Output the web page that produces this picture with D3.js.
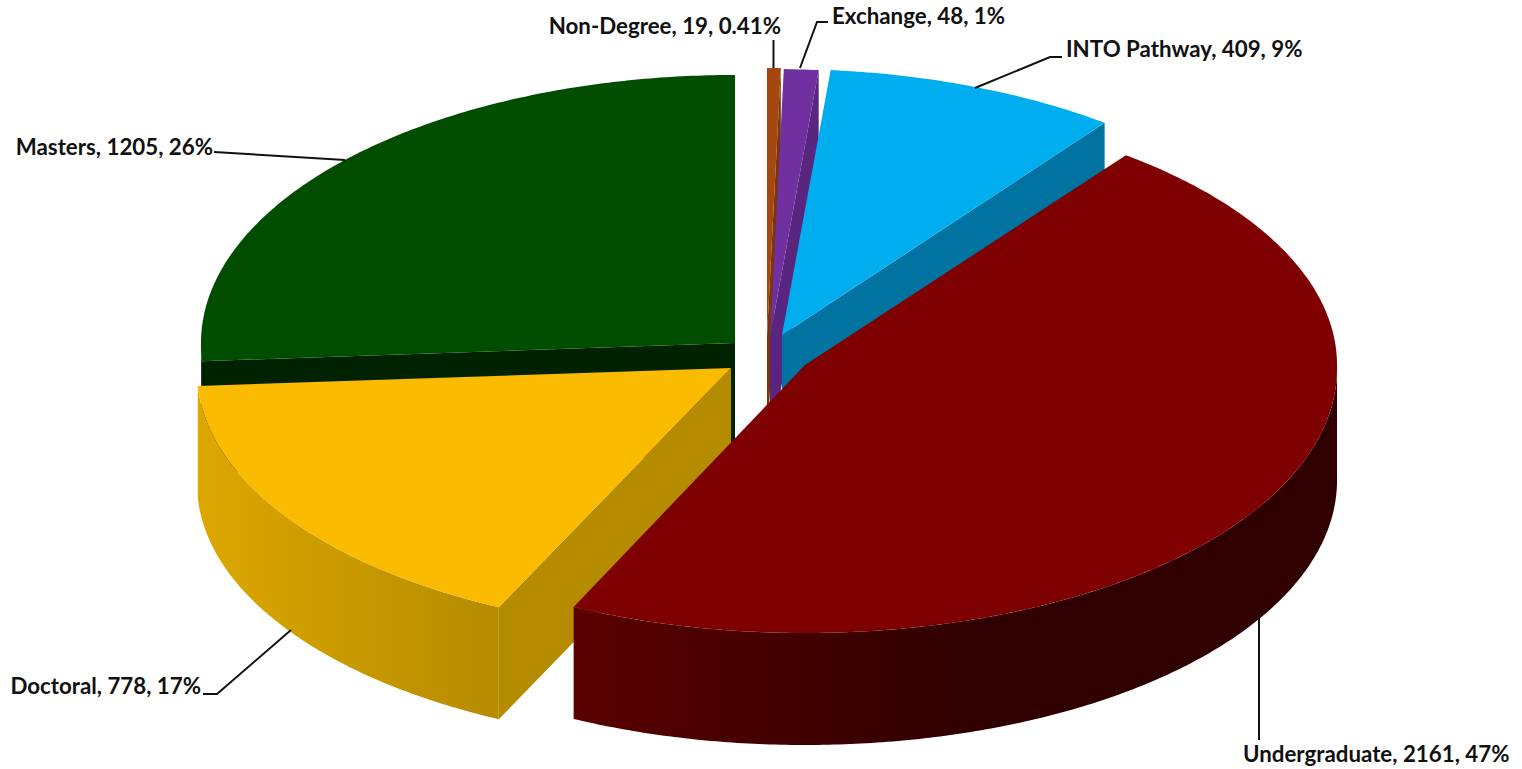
<!DOCTYPE html>
<html><head><meta charset="utf-8">
<script src="https://cdn.jsdelivr.net/npm/d3@7/dist/d3.min.js"></script>
<style>html,body{margin:0;padding:0;background:#fff}svg{display:block}</style>
</head><body><svg id="c" width="1522" height="769"></svg>
<script>
// Data (clockwise from 12 o'clock)
const categories = ["Non-Degree","Exchange","INTO Pathway","Undergraduate","Doctoral","Masters"];
const values = [19,48,409,2161,778,1205];
const percentLabels = ["0.41%","1%","9%","47%","17%","26%"];
const topColors = ["#a5480f","#7030a0","#00aeef","#7f0000","#fbbb00","#004d00"];
const cutColors = ["#7a350b","#59267f","#0073a0","#2f0000","#b58b00","#002200"];
const wallStops = [null,null,null,
  [[0,"#5a0000"],[0.5,"#300000"],[1,"#300000"]],
  [[0,"#dca700"],[1,"#b58b00"]],
  [[0,"#002200"],[1,"#002200"]]];
const drawOrder = [0,1,2,5,4,3];

// Layout: exploded centre and radii of each slice, label anchors, leader lines
const depth = 112, flare = 0.012;
const centres = [[767,336],[770,337],[782,335],[805,365],[731,368],[735,343]];
const radiiX = [535,535,535,532,534,534];
const radiiBack = [268,268,266,263,268,268];
const radiiFront = [268,268,268,268,265,268];
const labelPos = [[781,34,"end"],[832,24,"start"],[1066,57,"start"],[1243,762,"start"],[201,694,"end"],[213,155,"end"]];
const leaders = [
 [[773.5,40],[773.5,68]],
 [[828,22],[817,22],[800,68]],
 [[1062,57],[1050,57],[975,88]],
 [[1259,740],[1259,615]],
 [[203,694],[217,694],[291,630]],
 [[214,152],[345,160]]
];

const svg = d3.select("#c");
const defs = svg.append("defs");
const arcs = d3.pie().sort(null).startAngle(0).endAngle(2*Math.PI)(values);
const pt = (i,a,z=0)=>{
  const s=Math.sin(a), k=Math.cos(a);
  const x=radiiX[i]*s*(1+flare*Math.max(0,-k));
  const y=(k>0?radiiBack[i]:radiiFront[i])*k;
  return [centres[i][0]+x, centres[i][1]-y+z];
};
const line = d3.line();
const rim = (i,a0,a1,z=0)=>{
  const n=Math.max(2,Math.ceil(Math.abs(a1-a0)/0.01));
  return d3.range(n+1).map(k=>pt(i,a0+(a1-a0)*k/n,z));
};
const H = Math.PI/2;

drawOrder.forEach(i=>{
  const a0=arcs[i].startAngle, a1=arcs[i].endAngle, c=centres[i];
  const g=svg.append("g").attr("class","slice").attr("data-cat",categories[i]);
  // outer wall: only the part on the viewer's side
  const w0=Math.max(a0,H), w1=Math.min(a1,3*H);
  if(w1>w0){
    const top=rim(i,w0,w1), bot=rim(i,w1,w0,depth);
    const xs=top.map(p=>p[0]);
    const id="w"+i;
    const lg=defs.append("linearGradient").attr("id",id).attr("gradientUnits","userSpaceOnUse")
      .attr("x1",d3.min(xs)).attr("x2",d3.max(xs)).attr("y1",0).attr("y2",0);
    wallStops[i].forEach(s=>lg.append("stop").attr("offset",s[0]).attr("stop-color",s[1]));
    g.append("path").attr("d",line(top.concat(bot))+"Z").attr("fill",`url(#${id})`);
  }
  // cut faces turned toward the viewer
  const cut=(a)=>{const p=pt(i,a);return line([c,p,[p[0],p[1]+depth],[c[0],c[1]+depth]])+"Z";};
  if(a1<Math.PI) g.append("path").attr("d",cut(a1)).attr("fill",cutColors[i]);
  if(a0>Math.PI) g.append("path").attr("d",cut(a0)).attr("fill",cutColors[i]);
  // top face
  g.append("path").attr("d",line([c].concat(rim(i,a0,a1)))+"Z").attr("fill",topColors[i]);
});

svg.append("g").selectAll("path").data(leaders).join("path")
  .attr("d",d=>line(d)).attr("fill","none").attr("stroke","#111").attr("stroke-width",2);

svg.append("g").selectAll("text").data(categories).join("text")
  .attr("x",(d,i)=>labelPos[i][0]).attr("y",(d,i)=>labelPos[i][1])
  .attr("text-anchor",(d,i)=>labelPos[i][2])
  .attr("font-family","Lato, 'Open Sans', sans-serif").attr("font-weight",700).attr("font-size",22.3)
  .attr("fill","#111")
  .text((d,i)=>`${d}, ${values[i]}, ${percentLabels[i]}`);
</script></body></html>
